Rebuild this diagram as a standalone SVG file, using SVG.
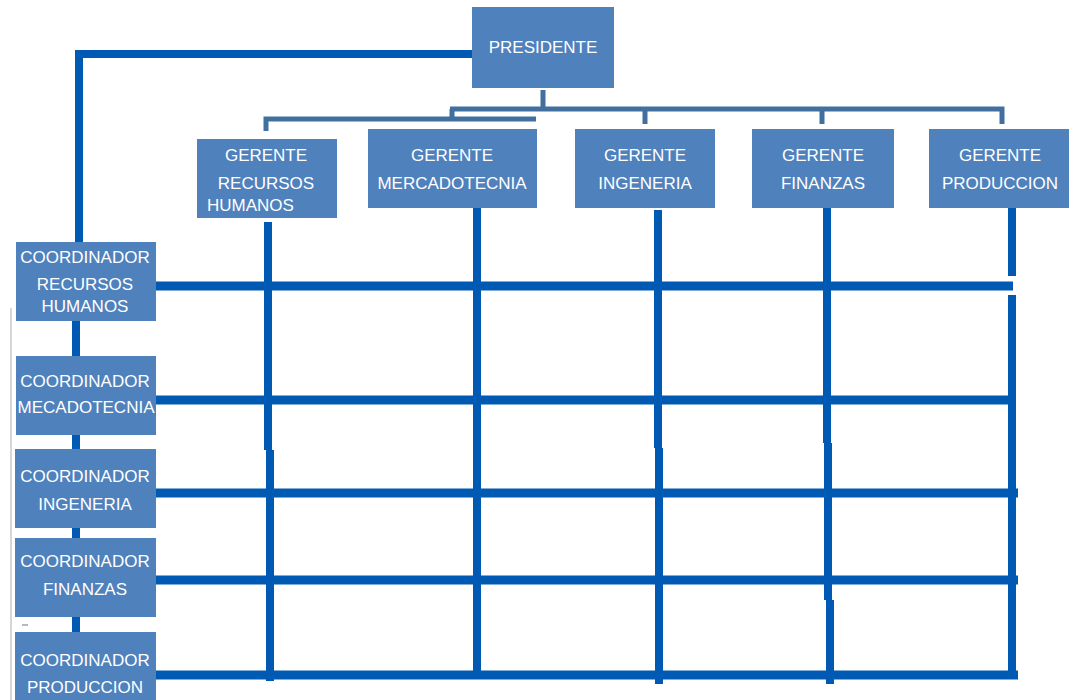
<svg xmlns="http://www.w3.org/2000/svg" width="1069" height="700" viewBox="0 0 1069 700">
<style>
.box{fill:#4F81BD}
.t{font-family:"Liberation Sans",Arial,sans-serif;font-size:17px;fill:#FFFFFF;text-anchor:middle}
.c{stroke:#0059B3;stroke-width:8;fill:none;stroke-linecap:butt}
.h{stroke:#0059B3;stroke-width:9;fill:none}
.b{stroke:#41709F;stroke-width:5;fill:none}
</style>
<rect width="1069" height="700" fill="#FFFFFF"/>
<g id="frame">
<line x1="11" y1="308" x2="11" y2="700" stroke="#D3D8DD" stroke-width="2"/>
<line x1="22" y1="625" x2="28" y2="625" stroke="#9AA4AE" stroke-width="1.5"/>
</g>
<g id="connectors">
<path class="b" d="M543,90 V109 M450,109 H1002 V124 M645,109 V124 M822,109 V124 M452,109 V119 H266 V131 M452,119 H536"/>
<path class="c" d="M79,54 H472 M79,50 V242" stroke-linecap="round"/>
<path class="c" d="M76,321 V356 M76,435 V449 M76,528 V538 M76,617 V632"/>
<path class="h" d="M155,286 H1013 M155,400 H1012 M155,493 H1018 M155,580 H1018 M153,675 H1018"/>
<path class="c" d="M268,222 V450 M270,450 V681"/>
<path class="c" d="M477,204 V676"/>
<path class="c" d="M658,210 V448 M659,448 V684"/>
<path class="c" d="M827,205 V443 M828,443 V600 M830,600 V684"/>
<path class="c" d="M1012,206 V276 M1012,295 V678"/>
</g>
<g id="presidente">
<rect class="box" x="472" y="7" width="142" height="81"/>
<text class="t" x="543" y="53">PRESIDENTE</text>
</g>
<g id="gerente-rrhh">
<rect class="box" x="197" y="139" width="140" height="79"/>
<text class="t" x="266" y="161">GERENTE</text>
<text class="t" x="266" y="189">RECURSOS</text>
<text class="t" x="207" y="211" style="text-anchor:start">HUMANOS</text>
</g>
<g id="gerente-mercadotecnia">
<rect class="box" x="368" y="129" width="169" height="79"/>
<text class="t" x="452" y="161">GERENTE</text>
<text class="t" x="452" y="189">MERCADOTECNIA</text>
</g>
<g id="gerente-ingeneria">
<rect class="box" x="575" y="129" width="140" height="79"/>
<text class="t" x="645" y="161">GERENTE</text>
<text class="t" x="645" y="189">INGENERIA</text>
</g>
<g id="gerente-finanzas">
<rect class="box" x="752" y="129" width="142" height="79"/>
<text class="t" x="823" y="161">GERENTE</text>
<text class="t" x="823" y="189">FINANZAS</text>
</g>
<g id="gerente-produccion">
<rect class="box" x="929" y="129" width="140" height="79"/>
<text class="t" x="1000" y="161">GERENTE</text>
<text class="t" x="1000" y="189">PRODUCCION</text>
</g>
<g id="coord-rrhh">
<rect class="box" x="16" y="242" width="140" height="79"/>
<text class="t" x="85" y="263">COORDINADOR</text>
<text class="t" x="85" y="290">RECURSOS</text>
<text class="t" x="85" y="312">HUMANOS</text>
</g>
<g id="coord-mercadotecnia">
<rect class="box" x="16" y="356" width="140" height="79"/>
<text class="t" x="85" y="387">COORDINADOR</text>
<text class="t" x="86" y="413">MECADOTECNIA</text>
</g>
<g id="coord-ingeneria">
<rect class="box" x="15" y="449" width="141" height="79"/>
<text class="t" x="85" y="482">COORDINADOR</text>
<text class="t" x="85" y="510">INGENERIA</text>
</g>
<g id="coord-finanzas">
<rect class="box" x="15" y="538" width="141" height="79"/>
<text class="t" x="85" y="567">COORDINADOR</text>
<text class="t" x="85" y="595">FINANZAS</text>
</g>
<g id="coord-produccion">
<rect class="box" x="15" y="632" width="141" height="80"/>
<text class="t" x="85" y="666">COORDINADOR</text>
<text class="t" x="85" y="693">PRODUCCION</text>
</g>
</svg>
